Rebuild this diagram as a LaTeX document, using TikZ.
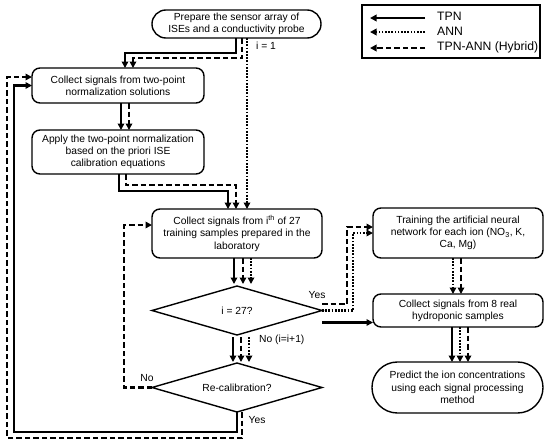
\documentclass[tikz,border=0pt]{standalone}
\usepackage{fontspec}
\setmainfont{Liberation Sans}
\usetikzlibrary{arrows.meta,shapes.geometric}
\begin{document}
\begin{tikzpicture}[x=1pt,y=-1pt,
  every node/.style={font=\fontsize{10.3}{12.3}\selectfont},
  box/.style={draw,line width=1.4pt,rounded corners=8pt,align=center,inner sep=2pt,outer sep=0pt,minimum width=171pt},
  dia/.style={draw,diamond,line width=1.4pt,minimum width=170pt,minimum height=49pt,inner sep=0pt,outer sep=0pt,aspect=3.47},
  tpn/.style={line width=2.2pt,-{Triangle[length=6.5pt,width=6.5pt]}},
  ann/.style={tpn,dash pattern=on 1.7pt off 1.5pt},
  hyb/.style={tpn,dash pattern=on 5.5pt off 3pt},
  lbl/.style={inner sep=0pt},
  leg/.style={font=\fontsize{12.2}{14}\selectfont,inner sep=0pt,anchor=west}]
\useasboundingbox (0,0) rectangle (550,445);

% nodes
\node[box,rounded corners=13.9pt,minimum width=169pt,minimum height=28pt] (S) at (236.5,24) {Prepare the sensor array of\\ISEs and a conductivity probe};
\node[box,minimum width=172pt,minimum height=35pt] (A) at (118,85.5) {Collect signals from two-point\\normalization solutions};
\node[box,minimum width=172pt,minimum height=44pt] (B) at (118,152) {Apply the two-point normalization\\based on the priori ISE\\calibration equations};
\node[box,minimum width=170pt,minimum height=49pt] (C) at (237,233.5) {Collect signals from i\textsuperscript{th} of 27\\training samples prepared in the\\laboratory};
\node[dia] (D1) at (237,310.5) {i = 27?};
\node[dia] (D2) at (237,387.5) {Re-calibration?};
\node[box,minimum width=170pt,minimum height=50pt] (E) at (458,233) {Training the artificial neural\\network for each ion (NO\textsubscript{3}, K,\\Ca, Mg)};
\node[box,minimum width=170pt,minimum height=33pt] (F) at (458,310.5) {Collect signals from 8 real\\hydroponic samples};
\node[box,rounded corners=25.4pt,minimum width=171pt,minimum height=51pt] (G) at (457.5,387.5) {Predict the ion concentrations\\using each signal processing\\method};

% legend
\node[draw,line width=1.4pt,minimum width=178pt,minimum height=53pt,inner sep=0pt,outer sep=0pt] (LB) at (451,31.5) {};
\node[leg] (L1) at (437,16) {TPN};
\node[leg] (L2) at (437,31) {ANN};
\node[leg] (L3) at (437,47) {TPN-ANN (Hybrid)};
\coordinate (l1a) at (425,18); \coordinate (l1b) at (370,18);
\coordinate (l2a) at (425,32); \coordinate (l2b) at (370,32);
\coordinate (l3a) at (425,48); \coordinate (l3b) at (370,48);
\draw[tpn] (l1a) -- (l1b);
\draw[ann] (l2a) -- (l2b);
\draw[hyb] (l3a) -- (l3b);

% start -> A, start -> C
\draw[tpn] ([xshift=-0.5pt]S.south) -- ++(0,15) -| ([xshift=7pt]A.north);
\draw[hyb] ([xshift=5.5pt]S.south) -- ++(0,20) -| ([xshift=15pt]A.north);
\draw[ann] ([xshift=10.5pt]S.south) -- ([xshift=10pt]C.north);
\node[lbl,anchor=west] (i1) at (256,46) {i = 1};

% A -> B
\draw[tpn] ([xshift=3pt]A.south) -- ([xshift=3pt]B.north);
\draw[hyb] ([xshift=11pt]A.south) -- ([xshift=11pt]B.north);

% B -> C
\draw[tpn] ([xshift=1pt]B.south) -- ++(0,17) -| ([xshift=-9pt]C.north);
\draw[hyb] ([xshift=8pt]B.south) -- ++(0,11) -| ([xshift=-1pt]C.north);

% C -> D1
\draw[tpn] ([xshift=-3pt]C.south) -- ([xshift=-3pt,yshift=2pt]D1.north);
\draw[hyb] ([xshift=6pt]C.south) -- ([xshift=6pt,yshift=2pt]D1.north);
\draw[ann] ([xshift=14pt]C.south) -- ([xshift=14pt,yshift=2pt]D1.north);

% D1 -> D2
\draw[tpn] ([xshift=-4pt,yshift=-2pt]D1.south) -- ([xshift=-4pt,yshift=1pt]D2.north);
\draw[hyb] ([xshift=4pt,yshift=-2pt]D1.south) -- ([xshift=4pt,yshift=1pt]D2.north);
\draw[ann] ([xshift=12pt,yshift=-2pt]D1.south) -- ([xshift=12pt,yshift=1pt]D2.north);
\node[lbl,anchor=west] (noi) at (259,340) {No (i=i+1)};

% D1 -> F, D1 -> E
\draw[tpn] ([yshift=-12pt]D1.east) -- ([yshift=-12pt]F.west);
\draw[hyb] ([yshift=6.5pt]D1.east) -- ++(25,0) |- ([yshift=6pt]E.west);
\draw[ann] (D1.east) -- ++(31,0) |- (E.west);
\node[lbl] (yes1) at (317,295) {Yes};

% E -> F
\draw[ann] ([xshift=-5pt]E.south) -- ([xshift=-5pt]F.north);
\draw[hyb] ([xshift=3pt]E.south) -- ([xshift=3pt]F.north);

% F -> G
\draw[tpn] ([xshift=-6pt]F.south) -- ([xshift=-5.5pt]G.north);
\draw[ann] ([xshift=2pt]F.south) -- ([xshift=2.5pt]G.north);
\draw[hyb] ([xshift=10pt]F.south) -- ([xshift=10.5pt]G.north);

% D2 -> C (No)
\draw[hyb] (D2.west) -- ++(-28,0) |- ([yshift=8.5pt]C.west);
\node[lbl] (no2) at (147,378) {No};

% D2 -> A (Yes)
\draw[tpn] (D2.south) -- ++(0,20) -| ([xshift=-18pt]A.west) -- (A.west);
\draw[hyb] ([xshift=5pt]D2.south) -- ++(0,26) -| ([xshift=-25pt,yshift=8.5pt]A.west) -- ([yshift=8.5pt]A.west);
\node[lbl] (yes2) at (257,420) {Yes};
\end{tikzpicture}
\end{document}
